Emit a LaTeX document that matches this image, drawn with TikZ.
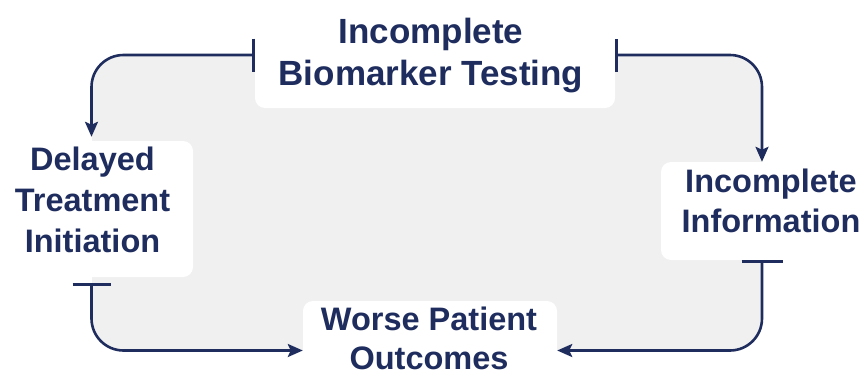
\documentclass[tikz,border=0pt]{standalone}
\usepackage{fontspec}
\setmainfont{Liberation Sans}
\usetikzlibrary{arrows.meta}
\definecolor{navy}{HTML}{1E2D5E}
\definecolor{bggray}{HTML}{F0F0F0}
\tikzset{
  headtip/.tip={Stealth[length=15pt,width=13pt,inset=3pt]}
}
\begin{document}
\begin{tikzpicture}[x=1pt,y=-1pt,
  box/.style={fill=white, rounded corners=10pt, inner sep=0pt, draw=none},
  lblbig/.style={text=navy, font=\fontsize{35}{42}\selectfont\bfseries, inner sep=0pt, anchor=base},
  lbl/.style={text=navy, font=\fontsize{32.5}{40}\selectfont\bfseries, inner sep=0pt, anchor=base},
  conn/.style={draw=navy, line width=2.6pt, rounded corners=32pt}
]
\useasboundingbox (0,0) rectangle (867,383);
\clip (0,0) rectangle (867,383);
% background panel enclosed by the loop
\fill[bggray, rounded corners=32pt] (92,55) rectangle (762,350.5);
% boxes
\node[box, minimum width=360pt, minimum height=114pt] (top) at (435,51) {};
\node[box, minimum width=203pt, minimum height=136pt] (left) at (91.5,209) {};
\node[box, minimum width=220pt, minimum height=98pt] (right) at (771,211) {};
\node[box, minimum width=254pt, minimum height=99pt] (bottom) at (430,350.5) {};
% labels
\node[lblbig] (top1) at (431,43) {Incomplete};
\node[lblbig] (top2) at (431,85) {Biomarker Testing};
\node[lbl] (left1) at (92.5,170) {Delayed};
\node[lbl] (left2) at (92.5,211) {Treatment};
\node[lbl] (left3) at (92.5,252) {Initiation};
\node[lbl] (right1) at (771,192) {Incomplete};
\node[lbl] (right2) at (771,232) {Information};
\node[lbl] (bottom1) at (429,330) {Worse Patient};
\node[lbl] (bottom2) at (429,369) {Outcomes};
% connectors
\draw[conn, {Bar[width=33pt]}-{headtip}, shorten >=4pt] ([yshift=-4pt]top.west) -| (left.north);
\draw[conn, {Bar[width=33pt]}-{headtip}] ([yshift=-4pt]top.east) -| ([xshift=-9pt]right.north);
\draw[conn, {Bar[width=38pt]}-{headtip}] ([yshift=-6pt]left.south) |- (bottom.west);
\draw[conn, {Bar[width=41pt]}-{headtip}] ([xshift=-9pt]right.south) |- (bottom.east);
\end{tikzpicture}
\end{document}
